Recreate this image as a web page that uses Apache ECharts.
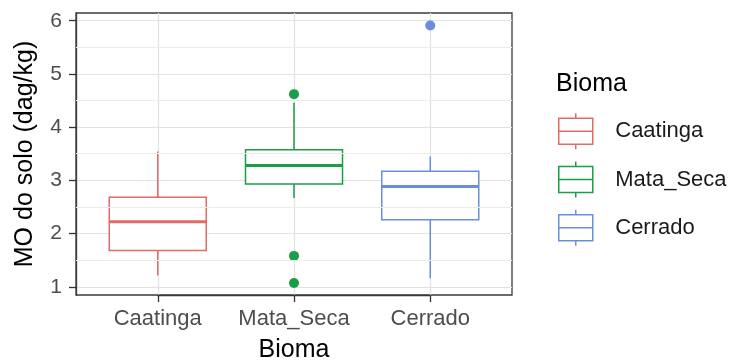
<!DOCTYPE html>
<html><head><meta charset="utf-8">
<script src="https://cdn.jsdelivr.net/npm/echarts@6/dist/echarts.min.js"></script>
<style>html,body{margin:0;padding:0;background:#fff}#c{width:736px;height:362px}</style>
</head><body><div id="c"></div>
<script>
// ---- data ----
const categories = ['Caatinga', 'Mata_Seca', 'Cerrado'];
const whiskerLow = [1.21, 2.67, 1.16];
const q1 = [1.68, 2.93, 2.26];
const medians = [2.22, 3.28, 2.885];
const q3 = [2.68, 3.575, 3.17];
const whiskerHigh = [3.54, 4.46, 3.45];
const outliers = [[], [4.62, 1.58, 1.07], [5.91]];
const yTicks = [1, 2, 3, 4, 5, 6];
const yMinorGrid = [1.5, 2.5, 3.5, 4.5, 5.5];

// ---- styles ----
const colors = ['#E06C66', '#1A9E47', '#6A8FDA'];
const FONT = '"Liberation Sans", Arial, sans-serif';
const yMin = 0.845, yMax = 6.145;
const iconPath = 'path://M18,0L18,5M1,5L35,5L35,31L1,31ZM1,18L35,18M18,31L18,36';

const chart = echarts.init(document.getElementById('c'), null, {renderer: 'canvas'});

function boxSeries(i) {
  return {
    type: 'custom', name: categories[i], xAxisIndex: 1, yAxisIndex: 1, z: 3,
    data: [[i, whiskerLow[i], q1[i], medians[i], q3[i], whiskerHigh[i]]],
    encode: {x: 0, y: [1, 2, 3, 4, 5]},
    renderItem: function (params, api) {
      const xi = api.value(0);
      const cx = api.coord([xi, api.value(3)])[0];
      const yLo = api.coord([xi, api.value(1)])[1];
      const yQ1 = api.coord([xi, api.value(2)])[1];
      const yMed = api.coord([xi, api.value(3)])[1];
      const yQ3 = api.coord([xi, api.value(4)])[1];
      const yHi = api.coord([xi, api.value(5)])[1];
      const w = api.size([1, 0])[0] * 0.712;
      const col = colors[i];
      const ls = {stroke: col, lineWidth: 1.5};
      return {
        type: 'group',
        children: [
          {type: 'line', shape: {x1: cx, y1: yQ3, x2: cx, y2: yHi}, style: ls},
          {type: 'line', shape: {x1: cx, y1: yQ1, x2: cx, y2: yLo}, style: ls},
          {type: 'rect', shape: {x: cx - w / 2, y: yQ3, width: w, height: yQ1 - yQ3},
            style: {fill: '#ffffff', stroke: col, lineWidth: 1.5}},
          {type: 'line', shape: {x1: cx - w / 2, y1: yMed, x2: cx + w / 2, y2: yMed},
            style: {stroke: col, lineWidth: 3}}
        ]
      };
    }
  };
}

function outlierSeries(i) {
  return {
    type: 'scatter', name: categories[i], xAxisIndex: 1, yAxisIndex: 1, z: 4,
    symbolSize: 10, itemStyle: {color: colors[i], opacity: 1},
    data: outliers[i].map(v => [categories[i], v])
  };
}

const option = {
  backgroundColor: '#ffffff',
  animation: false,
  title: {
    text: 'Bioma', left: 556, top: 72, padding: 0,
    textStyle: {fontSize: 25, fontWeight: 'normal', color: '#000', fontFamily: FONT}
  },
  legend: {
    orient: 'vertical', left: 553, top: 107.5, itemWidth: 69, itemHeight: 36, itemGap: 10.7,
    symbolKeepAspect: true,
    textStyle: {fontSize: 22, color: '#1a1a1a', fontFamily: FONT},
    data: categories.map((n, i) => ({
      name: n, icon: iconPath,
      itemStyle: {color: '#ffffff', borderColor: colors[i], borderWidth: 1.5}
    }))
  },
  grid: [
    {left: 76, top: 13, width: 436, height: 282, show: true, borderColor: '#3a3a3a', borderWidth: 1.3,
      backgroundColor: 'transparent', outerBoundsMode: 'none', containLabel: false},
    {left: 157.75, top: 13, width: 272.5, height: 282, outerBoundsMode: 'none', containLabel: false}
  ],
  xAxis: [
    {gridIndex: 0, type: 'value', min: 0, max: 1, show: false},
    {
      gridIndex: 1, type: 'category', data: categories, boundaryGap: false,
      axisLine: {show: true, onZero: false, lineStyle: {color: '#3a3a3a', width: 1.3}},
      axisTick: {show: true, interval: 0, length: 7, lineStyle: {color: '#333', width: 1.3}},
      axisLabel: {interval: 0, hideOverlap: false, fontSize: 22, color: '#4d4d4d', margin: 13, fontFamily: FONT},
      splitLine: {show: true, interval: 0, lineStyle: {color: '#e2e2e2', width: 1.2}},
      name: 'Bioma', nameLocation: 'middle', nameGap: 43,
      nameTextStyle: {fontSize: 25, color: '#000', fontFamily: FONT}
    }
  ],
  yAxis: [
    {
      gridIndex: 0, type: 'value', min: yMin, max: yMax, splitNumber: 5,
      axisLine: {show: true, onZero: false, lineStyle: {color: '#3a3a3a', width: 1.3}},
      axisTick: {show: true, length: 7, customValues: yTicks, lineStyle: {color: '#333', width: 1.3}},
      axisLabel: {fontSize: 21, color: '#4d4d4d', margin: 14, fontFamily: FONT, customValues: yTicks,
        formatter: v => (yTicks.indexOf(Math.round(v * 1000) / 1000) >= 0 ? String(v) : '')},
      splitLine: {show: true, lineStyle: {color: '#e2e2e2', width: 1.2}},
      name: 'MO do solo (dag/kg)', nameLocation: 'middle', nameGap: 38, nameRotate: 90,
      nameTextStyle: {fontSize: 25, color: '#000', fontFamily: FONT}
    },
    {gridIndex: 1, type: 'value', min: yMin, max: yMax, show: false, splitLine: {show: false}}
  ],
  series: [
    {
      type: 'line', xAxisIndex: 0, yAxisIndex: 0, data: [[0.5, null]], z: 1, silent: true,
      showSymbol: false,
      markLine: {
        silent: true, symbol: ['none', 'none'], label: {show: false},
        lineStyle: {color: '#ececec', width: 1, type: 'solid'},
        data: yMinorGrid.map(v => ({yAxis: v}))
      }
    },
    boxSeries(0), boxSeries(1), boxSeries(2),
    outlierSeries(1), outlierSeries(2)
  ]
};
chart.setOption(option);
</script>
</body></html>
